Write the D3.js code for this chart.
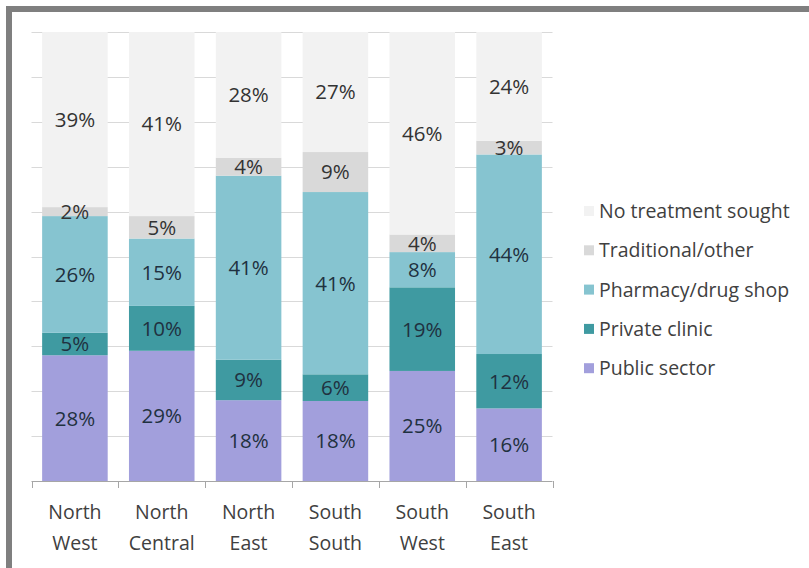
<!DOCTYPE html>
<html>
<head>
<meta charset="utf-8">
<script src="https://cdn.jsdelivr.net/npm/d3@7"></script>
<style>
  body { margin: 0; background: #fff; }
  svg text { font-family: "Open Sans", sans-serif; }
</style>
</head>
<body>
<div id="chart"></div>
<script>
// regions and series (percent of cases, as labelled on the bars)
var regions = ["North West", "North Central", "North East", "South South", "South West", "South East"];
var seriesNames = ["Public sector", "Private clinic", "Pharmacy/drug shop", "Traditional/other", "No treatment sought"];
var publicSector = [28, 29, 18, 18, 25, 16];
var privateClinic = [5, 10, 9, 6, 19, 12];
var pharmacy = [26, 15, 41, 41, 8, 44];
var traditional = [2, 5, 4, 9, 4, 3];
var noTreatment = [39, 41, 28, 27, 46, 24];
var colors = ["#a29fdc", "#3f9aa1", "#86c4d0", "#d9d9d9", "#f2f2f2"];

var W = 809, H = 568;
var svg = d3.select("#chart").append("svg")
    .attr("width", W)
    .attr("height", H);

// grey frame round the picture
svg.append("rect")
    .attr("x", 9).attr("y", 9)
    .attr("width", 860).attr("height", 620)
    .attr("fill", "#fff")
    .attr("stroke", "#7f7f7f")
    .attr("stroke-width", 6);

var plotLeft = 31.5, plotRight = 552.5, plotTop = 32, plotBottom = 481;

var rows = regions.map(function(r, i) {
  return {
    region: r,
    "Public sector": publicSector[i],
    "Private clinic": privateClinic[i],
    "Pharmacy/drug shop": pharmacy[i],
    "Traditional/other": traditional[i],
    "No treatment sought": noTreatment[i]
  };
});

var stack = d3.stack().keys(seriesNames).offset(d3.stackOffsetExpand);
var layers = stack(rows);

var x = d3.scaleBand().domain(regions).range([plotLeft, plotRight]).padding(0);
var y = d3.scaleLinear().domain([0, 1]).range([plotBottom, plotTop]);
var barW = x.bandwidth() * 0.755;

// gridlines
svg.append("g")
  .selectAll("line")
  .data(d3.range(0.1, 1.01, 0.1))
  .join("line")
    .attr("x1", plotLeft).attr("x2", plotRight)
    .attr("y1", function(d) { return Math.round(y(d)) + 0.5; })
    .attr("y2", function(d) { return Math.round(y(d)) + 0.5; })
    .attr("stroke", "#d9d9d9")
    .attr("stroke-width", 1);

// bars
var g = svg.append("g");
layers.forEach(function(layer, li) {
  g.append("g")
    .attr("fill", colors[li])
    .selectAll("rect")
    .data(layer)
    .join("rect")
      .attr("x", function(d) { return x(d.data.region) + (x.bandwidth() - barW) / 2; })
      .attr("y", function(d) { return y(d[1]); })
      .attr("width", barW)
      .attr("height", function(d) { return y(d[0]) - y(d[1]); });
});

// value labels
layers.forEach(function(layer, li) {
  svg.append("g")
    .selectAll("text")
    .data(layer)
    .join("text")
      .attr("x", function(d) { return x(d.data.region) + x.bandwidth() / 2; })
      .attr("y", function(d) { return (y(d[0]) + y(d[1])) / 2; })
      .attr("dy", "0.36em")
      .attr("text-anchor", "middle")
      .attr("font-size", 20.5)
      .attr("fill", li < 3 ? "#1f3140" : "#333")
      .text(function(d) { return d.data[layer.key] + "%"; });
});

// x axis
svg.append("line")
    .attr("x1", plotLeft).attr("x2", plotRight)
    .attr("y1", plotBottom + 0.5).attr("y2", plotBottom + 0.5)
    .attr("stroke", "#a6a6a6");

var tickXs = regions.map(function(r) { return x(r); }).concat([plotRight]);
svg.append("g")
  .selectAll("line")
  .data(tickXs)
  .join("line")
    .attr("x1", function(d) { return Math.round(d) + 0.5; })
    .attr("x2", function(d) { return Math.round(d) + 0.5; })
    .attr("y1", plotBottom).attr("y2", plotBottom + 7)
    .attr("stroke", "#a6a6a6");

var catLabels = svg.append("g")
  .selectAll("text")
  .data(regions)
  .join("text")
    .attr("x", function(d) { return x(d) + x.bandwidth() / 2; })
    .attr("y", 519)
    .attr("text-anchor", "middle")
    .attr("font-size", 19.5)
    .attr("fill", "#404040");
catLabels.each(function(d) {
  var parts = d.split(" ");
  var t = d3.select(this);
  parts.forEach(function(p, i) {
    t.append("tspan")
      .attr("x", x(d) + x.bandwidth() / 2)
      .attr("dy", i === 0 ? 0 : 31)
      .text(p);
  });
});

// legend (top to bottom: reverse stacking order)
var legendNames = seriesNames.slice().reverse();
var legendColors = colors.slice().reverse();
var legend = svg.append("g")
  .selectAll("g")
  .data(legendNames)
  .join("g")
    .attr("transform", function(d, i) { return "translate(584," + (211 + i * 39.3) + ")"; });
legend.append("rect")
    .attr("x", 0).attr("y", -5)
    .attr("width", 10).attr("height", 10)
    .attr("fill", function(d, i) { return legendColors[i]; });
legend.append("text")
    .attr("x", 15)
    .attr("dy", "0.36em")
    .attr("font-size", 19.5)
    .attr("fill", "#404040")
    .text(function(d) { return d; });
</script>
</body>
</html>
